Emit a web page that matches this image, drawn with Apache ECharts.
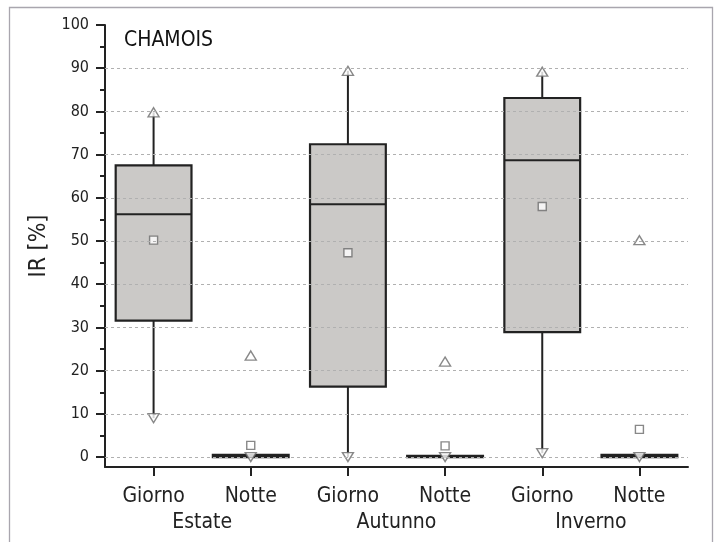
<!DOCTYPE html>
<html>
<head>
<meta charset="utf-8">
<script src="https://cdn.jsdelivr.net/npm/echarts@6/dist/echarts.min.js"></script>
<style>
  html, body { margin: 0; padding: 0; background: #fff; }
  #chart { width: 716px; height: 542px; }
</style>
</head>
<body>
<div id="chart"></div>
<script>
// Box summaries per group (IR %), day/night for each season
const categories = ['Giorno', 'Notte', 'Giorno', 'Notte', 'Giorno', 'Notte'];
const seasons = ['Estate', 'Autunno', 'Inverno'];
const whiskerLow  = [9.0, 0.0, 0.0, 0.0, 0.9, 0.0];
const q1          = [31.6, 0.0, 16.3, 0.0, 28.9, 0.0];
const median      = [56.2, 0.2, 58.5, 0.1, 68.7, 0.2];
const q3          = [67.5, 0.5, 72.4, 0.3, 83.1, 0.5];
const whiskerHigh = [79.8, 0.5, 89.4, 0.3, 89.2, 0.5];
const maxVals  = [79.8, 23.5, 89.4, 22.1, 89.2, 50.2];
const minVals  = [9.0, 0.0, 0.0, 0.0, 0.9, 0.0];
const meanVals = [50.2, 2.7, 47.3, 2.6, 58.0, 6.4];
const majorTicks = [0, 10, 20, 30, 40, 50, 60, 70, 80, 90, 100];
const minorTicks = [5, 15, 25, 35, 45, 55, 65, 75, 85, 95];
const gridValues = [0, 10, 20, 30, 40, 50, 60, 70, 80, 90];

const FONT = "'Liberation Sans Narrow', 'DejaVu Sans Condensed', 'Liberation Sans', sans-serif";
const INK = '#222';

const boxData = categories.map((c, i) => [i, whiskerLow[i], q1[i], median[i], q3[i], whiskerHigh[i]]);

const chart = echarts.init(document.getElementById('chart'), null, { renderer: 'canvas' });

chart.setOption({
  animation: false,
  backgroundColor: '#fff',
  title: {
    text: 'CHAMOIS', left: 124, top: 30, padding: 0,
    textStyle: { fontFamily: FONT, fontSize: 21, fontWeight: 'normal', color: '#111' }
  },
  graphic: [{
    type: 'rect', silent: true,
    shape: { x: 9.5, y: 7.5, width: 703, height: 600 },
    style: { fill: 'none', stroke: '#a9a6ae', lineWidth: 1.3 }
  }],
  grid: { left: 105, right: 28, top: 25, bottom: 75 },
  xAxis: [{
    type: 'category', data: categories, position: 'bottom',
    axisLine: { show: true, onZero: false, lineStyle: { color: INK, width: 2 } },
    axisTick: { show: true, alignWithLabel: true, length: 9, lineStyle: { color: INK, width: 2 } },
    axisLabel: { margin: 19, fontFamily: FONT, fontSize: 21, color: INK },
    splitLine: { show: false }
  }, {
    type: 'category', data: seasons, position: 'bottom',
    axisLine: { show: false, onZero: false }, axisTick: { show: false },
    axisLabel: { margin: 45, fontFamily: FONT, fontSize: 21, color: INK },
    splitLine: { show: false }
  }],
  yAxis: [{
    type: 'value', min: -2.3, max: 100, position: 'left',
    name: 'IR [%]', nameLocation: 'middle', nameGap: 42, nameRotate: 90,
    nameTextStyle: { fontFamily: FONT, fontSize: 23, color: INK },
    axisLine: { show: true, onZero: false, lineStyle: { color: INK, width: 2 } },
    axisTick: { show: true, length: 9, customValues: majorTicks, lineStyle: { color: INK, width: 2 } },
    axisLabel: { customValues: majorTicks, margin: 16, fontFamily: FONT, fontSize: 16, color: INK },
    splitLine: { show: false }
  }, {
    type: 'value', min: -2.3, max: 100, position: 'left', offset: 0,
    axisLine: { show: false, onZero: false },
    axisTick: { show: true, length: 5, customValues: minorTicks, lineStyle: { color: INK, width: 2 } },
    axisLabel: { show: false },
    splitLine: { show: false }
  }],
  series: [{
    // dashed horizontal guides
    type: 'line', data: [], z: 1, silent: true,
    markLine: {
      silent: true, symbol: 'none', label: { show: false },
      lineStyle: { type: [3, 3], color: '#b0b0b0', width: 1 },
      data: gridValues.map(v => ({ yAxis: v }))
    }
  }, {
    type: 'custom', z: 2, silent: true,
    data: boxData,
    renderItem(params, api) {
      const x = api.value(0);
      const lo = api.coord([x, api.value(1)]);
      const b1 = api.coord([x, api.value(2)]);
      const md = api.coord([x, api.value(3)]);
      const b3 = api.coord([x, api.value(4)]);
      const hi = api.coord([x, api.value(5)]);
      const w = api.size([1, 0])[0] * 0.78;
      const cx = b1[0];
      const left = cx - w / 2;
      const lineStyle = { stroke: INK, lineWidth: 2 };
      const children = [];
      if (hi[1] < b3[1]) {
        children.push({ type: 'line', shape: { x1: cx, y1: b3[1], x2: cx, y2: hi[1] }, style: lineStyle });
      }
      if (lo[1] > b1[1]) {
        children.push({ type: 'line', shape: { x1: cx, y1: b1[1], x2: cx, y2: lo[1] }, style: lineStyle });
      }
      children.push({
        type: 'rect',
        shape: { x: left, y: b3[1], width: w, height: Math.max(b1[1] - b3[1], 0.5) },
        style: { fill: '#cbc9c7', stroke: INK, lineWidth: 2.2 }
      });
      children.push({ type: 'line', shape: { x1: left, y1: md[1], x2: left + w, y2: md[1] }, style: lineStyle });
      return { type: 'group', children };
    }
  }, {
    type: 'scatter', z: 3, silent: true,
    symbol: 'triangle', symbolSize: [11, 9],
    itemStyle: { color: '#fff', borderColor: '#6a6a6a', borderWidth: 1.4 },
    data: maxVals.map((v, i) => [i, v])
  }, {
    type: 'scatter', z: 3, silent: true,
    symbol: 'triangle', symbolSize: [11, 9], symbolRotate: 180,
    itemStyle: { color: '#fff', borderColor: '#6a6a6a', borderWidth: 1.4 },
    data: minVals.map((v, i) => [i, v])
  }, {
    type: 'scatter', z: 3, silent: true,
    symbol: 'rect', symbolSize: 8,
    itemStyle: { color: '#fff', borderColor: '#6a6a6a', borderWidth: 1.4 },
    data: meanVals.map((v, i) => [i, v])
  }]
});
</script>
</body>
</html>
